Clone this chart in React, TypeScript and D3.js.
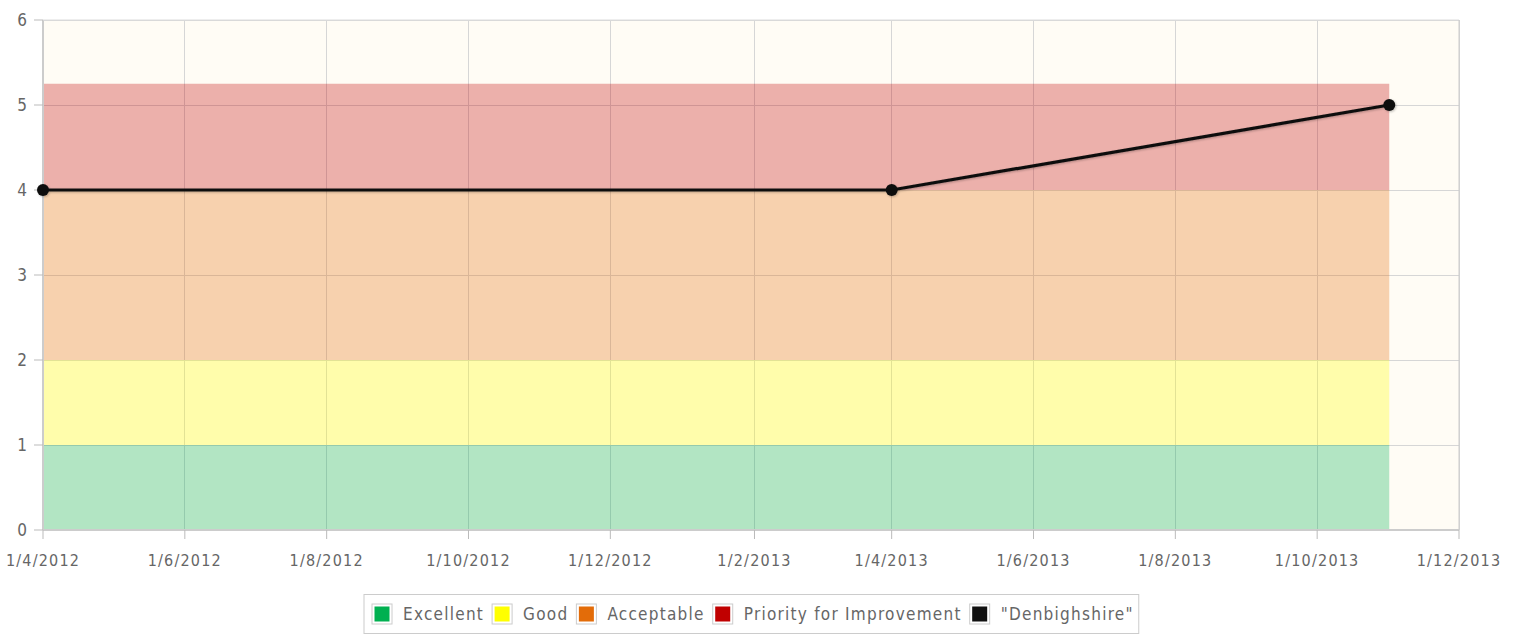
import React, { useEffect, useRef } from "react";
import * as d3 from "d3";

// series: "Denbighshire"
const dates = ["2012-04-01", "2013-04-01", "2013-11-01"];
const values = [4, 4, 5];

// rating bands (lower, upper)
const bandNames = ["Excellent", "Good", "Acceptable", "Priority for Improvement"];
const bandLower = [0, 1, 2, 4];
const bandUpper = [1, 2, 4, 5.25];
const bandColors = ["#00b050", "#ffff00", "#e36c09", "#c00000"];

const yTicks = [0, 1, 2, 3, 4, 5, 6];
const xDomain = ["2012-04-01", "2013-12-01"];

const W = 1520;
const H = 641;
const margin = { top: 20, right: 61, bottom: 111, left: 43 };
const FONT = "'DejaVu Sans Condensed', 'DejaVu Sans', sans-serif";

const App = () => {
  const ref = useRef<SVGSVGElement>(null);

  useEffect(() => {
    const svg = d3.select(ref.current);
    svg.selectAll("*").remove();

    const parse = d3.timeParse("%Y-%m-%d");
    const w = W - margin.left - margin.right;
    const h = H - margin.top - margin.bottom;

    const x = d3.scaleTime()
      .domain(xDomain.map(d => parse(d) as Date))
      .range([0, w]);
    const y = d3.scaleLinear().domain([0, 6]).range([h, 0]);

    const defs = svg.append("defs");
    const f = defs.append("filter").attr("id", "shadow").attr("x", "-10%").attr("y", "-50%")
      .attr("width", "120%").attr("height", "200%");
    f.append("feDropShadow").attr("dx", 1).attr("dy", 1).attr("stdDeviation", 1.2)
      .attr("flood-color", "#000").attr("flood-opacity", 0.25);

    const g = svg.append("g").attr("transform", `translate(${margin.left},${margin.top})`);

    // plot background
    g.append("rect").attr("width", w).attr("height", h).attr("fill", "#fffcf5");

    // every second month, counted from the domain start
    const xTicks = d3.timeMonth.range(x.domain()[0], d3.timeDay.offset(x.domain()[1], 1), 2);

    // grid
    g.append("g").selectAll("line.v").data(xTicks).join("line")
      .attr("x1", d => x(d)).attr("x2", d => x(d)).attr("y1", 0).attr("y2", h)
      .attr("stroke", "#d6d6d6").attr("stroke-width", 1).attr("shape-rendering", "crispEdges");
    g.append("g").selectAll("line.h").data(yTicks).join("line")
      .attr("x1", 0).attr("x2", w).attr("y1", d => y(d)).attr("y2", d => y(d))
      .attr("stroke", "#d6d6d6").attr("stroke-width", 1).attr("shape-rendering", "crispEdges");

    // bands
    const bandStart = parse(dates[0]) as Date;
    const bandEnd = parse(dates[dates.length - 1]) as Date;
    g.append("g").selectAll("rect").data(bandNames).join("rect")
      .attr("x", x(bandStart))
      .attr("width", x(bandEnd) - x(bandStart))
      .attr("y", (_, i) => y(bandUpper[i]))
      .attr("height", (_, i) => y(bandLower[i]) - y(bandUpper[i]))
      .attr("fill", (_, i) => bandColors[i])
      .attr("fill-opacity", 0.3);

    // axes lines
    g.append("line").attr("x1", 0).attr("x2", 0).attr("y1", 0).attr("y2", h)
      .attr("stroke", "#ccc").attr("stroke-width", 2);
    g.append("line").attr("x1", 0).attr("x2", w).attr("y1", h).attr("y2", h)
      .attr("stroke", "#ccc").attr("stroke-width", 2);
    g.append("line").attr("x1", 0).attr("x2", w).attr("y1", 0).attr("y2", 0)
      .attr("stroke", "#dcdcdc").attr("stroke-width", 1);
    g.append("line").attr("x1", w).attr("x2", w).attr("y1", 0).attr("y2", h)
      .attr("stroke", "#ccc").attr("stroke-width", 1);

    // y axis ticks
    const yAxis = g.append("g");
    yAxis.selectAll("line").data(yTicks).join("line")
      .attr("x1", -9).attr("x2", 0).attr("y1", d => y(d)).attr("y2", d => y(d))
      .attr("stroke", "#bbb");
    yAxis.selectAll("text").data(yTicks).join("text")
      .attr("x", -16).attr("y", d => y(d)).attr("dy", "0.35em")
      .attr("text-anchor", "end").attr("fill", "#666")
      .style("font-family", FONT).style("font-size", "17px")
      .text(d => d);

    // x axis ticks
    const fmt = (d: Date) => `${d.getDate()}/${d.getMonth() + 1}/${d.getFullYear()}`;
    const xAxis = g.append("g").attr("transform", `translate(0,${h})`);
    xAxis.selectAll("line").data(xTicks).join("line")
      .attr("x1", d => x(d)).attr("x2", d => x(d)).attr("y1", 0).attr("y2", 9)
      .attr("stroke", "#bbb");
    xAxis.selectAll("text").data(xTicks).join("text")
      .attr("x", d => x(d)).attr("y", 36)
      .attr("text-anchor", "middle").attr("fill", "#666")
      .style("font-family", FONT).style("font-size", "16px").style("letter-spacing", "1.2px")
      .text(d => fmt(d));

    // series
    const pts = dates.map((d, i) => ({ date: parse(d) as Date, value: values[i] }));
    const line = d3.line<{ date: Date; value: number }>().x(d => x(d.date)).y(d => y(d.value));
    const series = g.append("g").attr("filter", "url(#shadow)");
    series.append("path").datum(pts).attr("d", line)
      .attr("fill", "none").attr("stroke", "#111").attr("stroke-width", 3.2);
    series.selectAll("circle").data(pts).join("circle")
      .attr("cx", d => x(d.date)).attr("cy", d => y(d.value)).attr("r", 6)
      .attr("fill", "#111");

    // legend
    const legendItems = [...bandNames, "\"Denbighshire\""];
    const legendColors = [...bandColors, "#111"];
    const lg = svg.append("g");
    const box = lg.append("rect").attr("fill", "#fff").attr("stroke", "#ccc").attr("stroke-width", 1);
    let cx = 8;
    const ly = 614;
    legendItems.forEach((name, i) => {
      lg.append("rect").attr("x", cx).attr("y", ly - 10).attr("width", 20).attr("height", 20)
        .attr("fill", "#fff").attr("stroke", "#ccc");
      lg.append("rect").attr("x", cx + 2.5).attr("y", ly - 7.5).attr("width", 15).attr("height", 15)
        .attr("fill", legendColors[i]);
      const t = lg.append("text").attr("x", cx + 31).attr("y", ly).attr("dy", "0.36em")
        .attr("fill", "#666").style("font-family", FONT).style("font-size", "17px")
        .style("letter-spacing", "1.25px")
        .text(name);
      const tw = (t.node() as SVGTextElement).getComputedTextLength();
      cx += 31 + tw + 8;
    });
    const totalW = cx - 3;
    const left = Math.round((margin.left + (W - margin.right)) / 2 - totalW / 2);
    lg.attr("transform", `translate(${left},0)`);
    box.attr("x", 0).attr("y", ly - 19.5).attr("width", totalW).attr("height", 39);
  }, []);

  return (
    <svg ref={ref} width={W} height={H}
      style={{ position: "absolute", left: 0, top: 0, background: "#fff" }} />
  );
};

export default App;
